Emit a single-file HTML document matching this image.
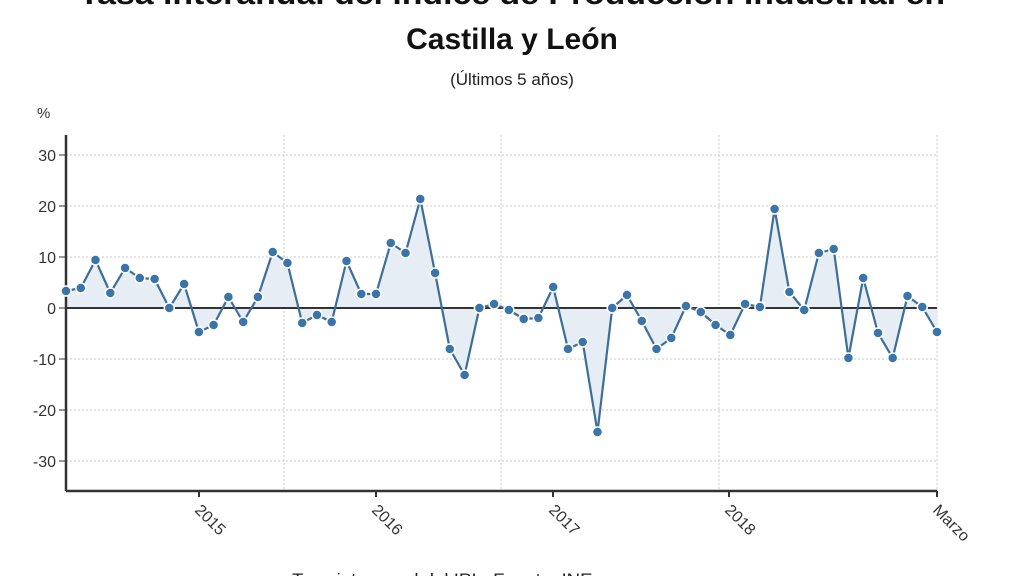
<!DOCTYPE html>
<html><head><meta charset="utf-8"><style>
html,body{margin:0;padding:0;background:#fff;width:1024px;height:576px;overflow:hidden;}
svg{display:block;font-family:"Liberation Sans",sans-serif;}
</style></head><body>
<svg width="1024" height="576" viewBox="0 0 1024 576">
<text x="512" y="4" text-anchor="middle" font-size="30" font-weight="bold" fill="#111" textLength="866" lengthAdjust="spacingAndGlyphs">Tasa interanual del índice de Producción Industrial en</text>
<text x="512" y="49" text-anchor="middle" font-size="30" font-weight="bold" fill="#111">Castilla y León</text>
<text x="512" y="85" text-anchor="middle" font-size="17" fill="#222">(Últimos 5 años)</text>
<text x="37" y="118" font-size="15" fill="#333">%</text>
<g stroke="#c8c8c8" stroke-width="1" stroke-dasharray="2,2">
<line x1="66" y1="155" x2="937" y2="155"/>
<line x1="66" y1="206" x2="937" y2="206"/>
<line x1="66" y1="257" x2="937" y2="257"/>
<line x1="66" y1="359" x2="937" y2="359"/>
<line x1="66" y1="410" x2="937" y2="410"/>
<line x1="66" y1="461" x2="937" y2="461"/>
<line x1="284" y1="135" x2="284" y2="491"/>
<line x1="501" y1="135" x2="501" y2="491"/>
<line x1="719" y1="135" x2="719" y2="491"/>
<line x1="937" y1="135" x2="937" y2="491"/>
</g>
<g font-size="16" fill="#333" text-anchor="end">
<text x="56" y="161">30</text><text x="56" y="212">20</text><text x="56" y="263">10</text>
<text x="56" y="314">0</text><text x="56" y="365">-10</text><text x="56" y="416">-20</text><text x="56" y="467">-30</text>
</g>
<g stroke="#333" stroke-width="1">
<line x1="59" y1="155" x2="66" y2="155"/><line x1="59" y1="206" x2="66" y2="206"/><line x1="59" y1="257" x2="66" y2="257"/>
<line x1="59" y1="308" x2="66" y2="308"/><line x1="59" y1="359" x2="66" y2="359"/><line x1="59" y1="410" x2="66" y2="410"/><line x1="59" y1="461" x2="66" y2="461"/>
</g>
<polygon fill="#e6edf5" points="66,308 66,291 80.8,288 95.5,260 110.3,293 125.1,268 139.8,278 154.6,279 169.3,308 184.1,284 198.9,332 213.6,325 228.4,297 243.2,322 257.9,297 272.7,252 287.4,263 302.2,323 317,315 331.7,322 346.5,261 361.3,294 376,294 390.8,243 405.5,253 420.3,199 435.1,273 449.8,349 464.6,375 479.4,308 494.1,304 508.9,310 523.7,319 538.4,318 553.2,287 568,349 582.7,342 597.5,432 612.2,308 627,295 641.8,321 656.5,349 671.3,338 686,306 700.8,312 715.6,325 730.3,335 745.1,304 759.9,307 774.6,209 789.4,292 804.2,310 818.9,253 833.7,249 848.4,358 863.2,278 878,333 892.7,358 907.5,296 922.3,307 937,332 937,308"/>
<line x1="66" y1="308" x2="937" y2="308" stroke="#333" stroke-width="2"/>
<line x1="66" y1="135" x2="66" y2="491" stroke="#333" stroke-width="2.5"/>
<line x1="66" y1="491" x2="937" y2="491" stroke="#333" stroke-width="2.5"/>
<g stroke="#333" stroke-width="2">
<line x1="199" y1="491" x2="199" y2="497"/><line x1="376" y1="491" x2="376" y2="497"/><line x1="553" y1="491" x2="553" y2="497"/><line x1="729" y1="491" x2="729" y2="497"/><line x1="937" y1="491" x2="937" y2="497"/>
</g>
<polyline fill="none" stroke="#3d6e98" stroke-width="2.2" stroke-linejoin="round" points="66,291 80.8,288 95.5,260 110.3,293 125.1,268 139.8,278 154.6,279 169.3,308 184.1,284 198.9,332 213.6,325 228.4,297 243.2,322 257.9,297 272.7,252 287.4,263 302.2,323 317,315 331.7,322 346.5,261 361.3,294 376,294 390.8,243 405.5,253 420.3,199 435.1,273 449.8,349 464.6,375 479.4,308 494.1,304 508.9,310 523.7,319 538.4,318 553.2,287 568,349 582.7,342 597.5,432 612.2,308 627,295 641.8,321 656.5,349 671.3,338 686,306 700.8,312 715.6,325 730.3,335 745.1,304 759.9,307 774.6,209 789.4,292 804.2,310 818.9,253 833.7,249 848.4,358 863.2,278 878,333 892.7,358 907.5,296 922.3,307 937,332"/>
<g fill="#3a74a8" stroke="#fff" stroke-width="1.5">
<circle cx="66" cy="291" r="5"/><circle cx="80.8" cy="288" r="5"/><circle cx="95.5" cy="260" r="5"/><circle cx="110.3" cy="293" r="5"/><circle cx="125.1" cy="268" r="5"/><circle cx="139.8" cy="278" r="5"/><circle cx="154.6" cy="279" r="5"/><circle cx="169.3" cy="308" r="5"/><circle cx="184.1" cy="284" r="5"/><circle cx="198.9" cy="332" r="5"/><circle cx="213.6" cy="325" r="5"/><circle cx="228.4" cy="297" r="5"/><circle cx="243.2" cy="322" r="5"/><circle cx="257.9" cy="297" r="5"/><circle cx="272.7" cy="252" r="5"/><circle cx="287.4" cy="263" r="5"/><circle cx="302.2" cy="323" r="5"/><circle cx="317" cy="315" r="5"/><circle cx="331.7" cy="322" r="5"/><circle cx="346.5" cy="261" r="5"/><circle cx="361.3" cy="294" r="5"/><circle cx="376" cy="294" r="5"/><circle cx="390.8" cy="243" r="5"/><circle cx="405.5" cy="253" r="5"/><circle cx="420.3" cy="199" r="5"/><circle cx="435.1" cy="273" r="5"/><circle cx="449.8" cy="349" r="5"/><circle cx="464.6" cy="375" r="5"/><circle cx="479.4" cy="308" r="5"/><circle cx="494.1" cy="304" r="5"/><circle cx="508.9" cy="310" r="5"/><circle cx="523.7" cy="319" r="5"/><circle cx="538.4" cy="318" r="5"/><circle cx="553.2" cy="287" r="5"/><circle cx="568" cy="349" r="5"/><circle cx="582.7" cy="342" r="5"/><circle cx="597.5" cy="432" r="5"/><circle cx="612.2" cy="308" r="5"/><circle cx="627" cy="295" r="5"/><circle cx="641.8" cy="321" r="5"/><circle cx="656.5" cy="349" r="5"/><circle cx="671.3" cy="338" r="5"/><circle cx="686" cy="306" r="5"/><circle cx="700.8" cy="312" r="5"/><circle cx="715.6" cy="325" r="5"/><circle cx="730.3" cy="335" r="5"/><circle cx="745.1" cy="304" r="5"/><circle cx="759.9" cy="307" r="5"/><circle cx="774.6" cy="209" r="5"/><circle cx="789.4" cy="292" r="5"/><circle cx="804.2" cy="310" r="5"/><circle cx="818.9" cy="253" r="5"/><circle cx="833.7" cy="249" r="5"/><circle cx="848.4" cy="358" r="5"/><circle cx="863.2" cy="278" r="5"/><circle cx="878" cy="333" r="5"/><circle cx="892.7" cy="358" r="5"/><circle cx="907.5" cy="296" r="5"/><circle cx="922.3" cy="307" r="5"/><circle cx="937" cy="332" r="5"/>
</g>
<g font-size="16" fill="#333">
<text transform="translate(194,511) rotate(45)">2015</text>
<text transform="translate(371,511) rotate(45)">2016</text>
<text transform="translate(548,511) rotate(45)">2017</text>
<text transform="translate(724,511) rotate(45)">2018</text>
<text transform="translate(932,511) rotate(45)">Marzo</text>
</g>
<text x="505" y="585" text-anchor="middle" font-size="17" fill="#222" textLength="426" lengthAdjust="spacingAndGlyphs">Tasa interanual del IPI · Fuente: INE · europa press</text>
</svg>
</body></html>
